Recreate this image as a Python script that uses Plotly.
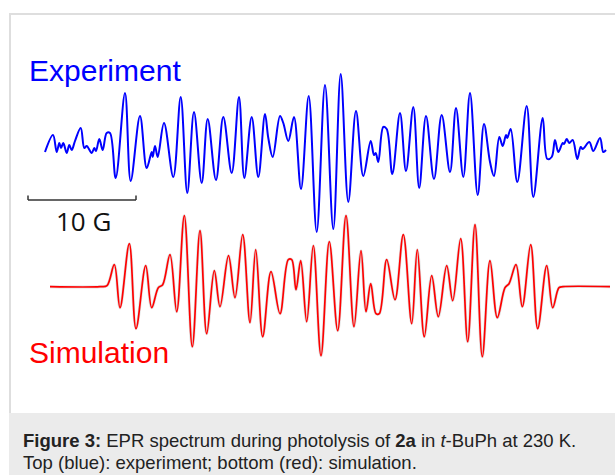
import plotly.graph_objects as go

# ---------------- data ----------------
# field position (scale: 10 G = 108 units), signal in arbitrary units
exp_field = [45, 53, 56.7, 59.3, 61, 63.3, 66.7, 69.3, 71.7, 75, 80.7, 84.3, 86.7, 91.7, 94.3, 96,
             99.3, 102.7, 106.7, 110, 115.7, 125, 130.7, 140, 146.7, 151.7, 152.7, 155, 157.7, 164,
             173.3, 180.7, 187.3, 194, 201.7, 207.7, 216, 223.3, 231.7, 239, 244.3, 251.7, 258.3,
             265, 268.3, 272.7, 280, 283.3, 288.3, 294, 301, 308.7, 316.7, 325, 333.3, 340.7, 348.3,
             356, 363.3, 370.7, 374, 375.7, 378.3, 383.3, 386.7, 392.3, 400, 406, 413.3, 419.2, 426,
             434, 441.7, 450, 456, 463.3, 470, 477.7, 484, 490, 494, 499.3, 502.7, 506, 507.3, 510.7,
             517.3, 526.7, 533.3, 542.7, 547.3, 551.7, 555, 558.3, 562.7, 564, 566.7, 569.3, 572.7,
             577.3, 580.7, 582.7, 589.3, 593.3, 600, 603.3, 606]
exp_signal = [-2, 15, -2, 7, 2, 7, -3, 5, 0, 9, 22, 2, 4, -3, 2, -1,
              11, 0, 17, 17, -28, 57, -31, 34, -18, -2, -7, 4, -7, 27,
              -27, 53, -43, 38, -33, 31, -30, 33, -23, 53, -28, 33, -27,
              36, 12, -7, 34, 27, 9, 33, -39, 54, -82, 65, -79, 76, -52,
              39, -26, 9, -5, -3, -12, 23, 21, -24, 37, -21, 43, -38, 34,
              -29, 35, -22, 42, -27, 57, -45, 26, -12, -26, 13, 4, 15, 12, 21,
              -32, 44, -47, 32, -9, -7, 10, -2, 7, 6, 11, 7, 10,
              -9, 3, 1, 8, -1, 12, -2, 0]

sim_field = [50, 100, 107, 114.3, 120, 129.3, 136, 145.7, 151.7, 158.3, 162.7, 170, 176.7, 184.3,
             192.3, 200, 206.7, 214.3, 220, 228.5, 235, 242.7, 250, 255.7, 262.7, 271, 280, 288.3,
             291.7, 296, 300.7, 306.7, 313.3, 321, 329.3, 337.7, 346, 354, 361, 366, 370.7, 376,
             379.3, 386.7, 395, 403.3, 411.7, 417.3, 424.3, 431.7, 438.3, 446.7, 452.7, 460.7, 467.7,
             475, 482.3, 490, 497.3, 505, 509, 516, 522.3, 530.7, 537.7, 546.7, 552.7, 559, 563, 610]
sim_signal = [0, 0, 1, 22, -21, 43, -42, 21, -21, -1, 2, 32, -25, 71,
              -60, 56, -47, 16, -20, 31, -11, 52, -36, 37, -50, 15, -27, 27,
              27, -3, 26, -35, 41, -69, 45, -44, 71, -40, 36, -25, 3, -27,
              -27, 27, -13, 52, -37, 37, -50, 11, -30, 21, -14, 48, -55,
              62, -70, 26, -31, -1, 3, 22, -20, 42, -42, 21, -21, -1, 0, 0]

scale_bar_gauss = 10
units_per_gauss = 10.8

caption_line1 = ("<b>Figure 3:</b> EPR spectrum during photolysis of <b>2a</b> in "
                 "<i>t</i>-BuPh at 230 K.")
caption_line2 = "Top (blue): experiment; bottom (red): simulation."

# ---------------- layout helpers ----------------
W, H = 615, 475
EXP_BASE = 150.0     # pixel row of experiment baseline
SIM_BASE = 286.7     # pixel row of simulation baseline


def px(x):
    return x / W


def py(y):
    return 1 - y / H


fig = go.Figure()

fig.add_trace(go.Scatter(
    x=exp_field, y=exp_signal, mode="lines",
    line=dict(color="#0000ff", width=2.0, shape="spline", smoothing=1.0),
    yaxis="y", hoverinfo="skip", showlegend=False))

fig.add_trace(go.Scatter(
    x=sim_field, y=sim_signal, mode="lines",
    line=dict(color="rgba(130,130,130,0.25)", width=3.0, shape="spline", smoothing=1.0),
    yaxis="y2", hoverinfo="skip", showlegend=False))
fig.add_trace(go.Scatter(
    x=sim_field, y=sim_signal, mode="lines",
    line=dict(color="#ff0000", width=1.7, shape="spline", smoothing=1.0),
    yaxis="y2", hoverinfo="skip", showlegend=False))

shapes = [
    # figure frame
    dict(type="rect", xref="paper", yref="paper", x0=px(10), x1=px(W + 20), y0=py(H + 20), y1=py(14),
         line=dict(color="#dedede", width=2), fillcolor="white", layer="below"),
    # caption band
    dict(type="rect", xref="paper", yref="paper", x0=px(9), x1=px(W + 20), y0=py(H + 20), y1=py(413),
         line=dict(width=0), fillcolor="#ebebeb", layer="below"),
]

# scale bar (10 G)
bar_x0 = 28
bar_x1 = bar_x0 + scale_bar_gauss * units_per_gauss
bar_y = EXP_BASE - 200
tick_h = 4.5
bar_col = "#333333"
shapes += [
    dict(type="line", xref="x", yref="y", x0=bar_x0, x1=bar_x1, y0=bar_y, y1=bar_y,
         line=dict(color=bar_col, width=1.5)),
    dict(type="line", xref="x", yref="y", x0=bar_x0, x1=bar_x0, y0=bar_y, y1=bar_y + tick_h,
         line=dict(color=bar_col, width=1.5)),
    dict(type="line", xref="x", yref="y", x0=bar_x1, x1=bar_x1, y0=bar_y, y1=bar_y + tick_h,
         line=dict(color=bar_col, width=1.5)),
]

cap_font = dict(family="Liberation Sans, Arial", size=18.5, color="#222222")
annotations = [
    dict(text="Experiment", xref="paper", yref="paper", x=px(27), y=py(70), xanchor="left",
         yanchor="middle", showarrow=False,
         font=dict(family="Liberation Sans, Arial", size=30, color="#0000ff")),
    dict(text="Simulation", xref="paper", yref="paper", x=px(27), y=py(352), xanchor="left",
         yanchor="middle", showarrow=False,
         font=dict(family="Liberation Sans, Arial", size=30, color="#ff0000")),
    dict(text=f"{scale_bar_gauss} G", xref="paper", yref="paper", x=px(83), y=py(221),
         xanchor="center", yanchor="middle", showarrow=False,
         font=dict(family="Open Sans, Noto Sans", size=26, color="#111111")),
    dict(text=caption_line1, xref="paper", yref="paper", x=px(21),
         y=py(440), xanchor="left", yanchor="middle", align="left", showarrow=False,
         font=cap_font),
    dict(text=caption_line2, xref="paper", yref="paper", x=px(21),
         y=py(462), xanchor="left", yanchor="middle", align="left", showarrow=False,
         font=cap_font),
]

fig.update_layout(
    width=W, height=H, autosize=False,
    margin=dict(l=0, r=0, t=0, b=0, pad=0),
    paper_bgcolor="white", plot_bgcolor="rgba(0,0,0,0)",
    xaxis=dict(range=[0, W], visible=False, domain=[0, 1], fixedrange=True),
    yaxis=dict(range=[EXP_BASE - H, EXP_BASE], visible=False, domain=[0, 1], fixedrange=True),
    yaxis2=dict(range=[SIM_BASE - H, SIM_BASE], visible=False, overlaying="y", fixedrange=True),
    shapes=shapes, annotations=annotations, showlegend=False,
)

fig.write_html("out.html", config={"displayModeBar": False},
               post_script="document.body.style.margin='0';")
